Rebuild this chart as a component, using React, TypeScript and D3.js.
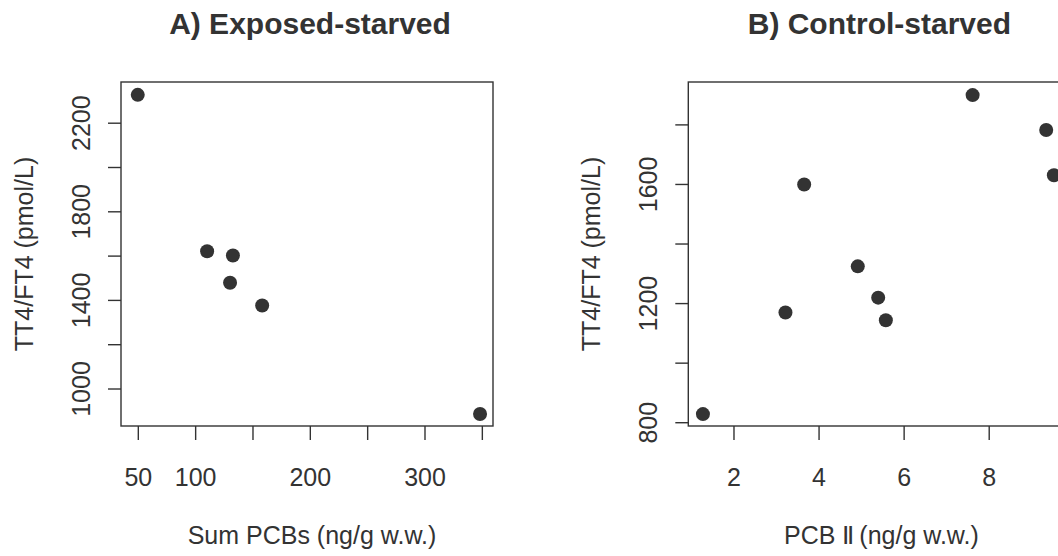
import React, { useEffect, useRef } from "react"
import * as d3 from "d3"

// panel A: exposed-starved
const pcbSum = [49.5, 110, 132.5, 130, 158, 348]
const ratioA = [2328, 1622, 1603, 1480, 1377, 887]
const xTicksA = [50, 100, 150, 200, 250, 300, 350]
const xLabelsA = [50, 100, 200, 300]
const yTicksA = [1000, 1200, 1400, 1600, 1800, 2000, 2200]
const yLabelsA = [1000, 1400, 1800, 2200]

// panel B: control-starved
const pcb2 = [1.27, 3.21, 3.65, 4.91, 5.39, 5.57, 7.61, 9.34, 9.52]
const ratioB = [829, 1170, 1600, 1325, 1220, 1144, 1900, 1783, 1631]
const xTicksB = [2, 4, 6, 8, 10]
const xLabelsB = [2, 4, 6, 8]
const yTicksB = [800, 1000, 1200, 1400, 1600, 1800]
const yLabelsB = [800, 1200, 1600]

const ink = "#333333"
const font = "'Liberation Sans', Arial, sans-serif"

export default function App() {
    const ref = useRef<SVGSVGElement>(null)

    useEffect(() => {
        const svg = d3.select(ref.current)
        svg.selectAll("*").remove()

        const top = 82, bottom = 426

        const panel = (opts: any) => {
            const { xs, ys, x, y, xTicks, xLabels, yTicks, yLabels, title, xTitle, yTitle } = opts
            const [left, right] = x.range()
            const g = svg.append("g")

            g.append("rect")
                .attr("x", left).attr("y", top)
                .attr("width", right - left).attr("height", bottom - top)
                .attr("fill", "none").attr("stroke", ink).attr("stroke-width", 1.4)

            // x axis
            g.selectAll(".xt").data(xTicks).enter().append("line")
                .attr("x1", (d: number) => x(d)).attr("x2", (d: number) => x(d))
                .attr("y1", bottom).attr("y2", bottom + 14)
                .attr("stroke", ink).attr("stroke-width", 1.4)
            g.selectAll(".xl").data(xLabels).enter().append("text")
                .attr("x", (d: number) => x(d)).attr("y", 486)
                .attr("text-anchor", "middle")
                .attr("font-size", 25).attr("fill", ink)
                .text((d: number) => d)

            // y axis
            g.selectAll(".yt").data(yTicks).enter().append("line")
                .attr("x1", left - 13).attr("x2", left)
                .attr("y1", (d: number) => y(d)).attr("y2", (d: number) => y(d))
                .attr("stroke", ink).attr("stroke-width", 1.4)
            g.selectAll(".yl").data(yLabels).enter().append("text")
                .attr("transform", (d: number) => `translate(${left - 31},${y(d)}) rotate(-90)`)
                .attr("text-anchor", "middle")
                .attr("font-size", 25).attr("fill", ink)
                .text((d: number) => d)

            g.selectAll("circle").data(xs).enter().append("circle")
                .attr("cx", (d: number) => x(d))
                .attr("cy", (d: number, i: number) => y(ys[i]))
                .attr("r", 7)
                .attr("fill", ink)

            const mid = (left + right) / 2
            g.append("text")
                .attr("x", mid + 3).attr("y", 34)
                .attr("text-anchor", "middle")
                .attr("font-size", 30).attr("font-weight", "bold").attr("fill", ink)
                .text(title)
            g.append("text")
                .attr("x", mid + 5).attr("y", 544)
                .attr("text-anchor", "middle")
                .attr("font-size", 25).attr("fill", ink)
                .text(xTitle)
            g.append("text")
                .attr("transform", `translate(${left - 88},${(top + bottom) / 2}) rotate(-90)`)
                .attr("text-anchor", "middle")
                .attr("font-size", 25).attr("fill", ink)
                .text(yTitle)
        }

        panel({
            xs: pcbSum, ys: ratioA,
            x: d3.scaleLinear().domain([34.9, 359.3]).range([121, 493]),
            y: d3.scaleLinear().domain([833, 2386]).range([bottom, top]),
            xTicks: xTicksA, xLabels: xLabelsA, yTicks: yTicksA, yLabels: yLabelsA,
            title: "A) Exposed-starved",
            xTitle: "Sum PCBs (ng/g w.w.)",
            yTitle: "TT4/FT4 (pmol/L)"
        })

        panel({
            xs: pcb2, ys: ratioB,
            x: d3.scaleLinear().domain([0.926, 9.77]).range([688.3, 1064.5]),
            y: d3.scaleLinear().domain([789, 1944]).range([bottom, top]),
            xTicks: xTicksB, xLabels: xLabelsB, yTicks: yTicksB, yLabels: yLabelsB,
            title: "B) Control-starved",
            xTitle: "PCB Ⅱ\u2009(ng/g w.w.)",
            yTitle: "TT4/FT4 (pmol/L)"
        })
    }, [])

    return (
        <svg ref={ref} width={1058} height={556}
            style={{ position: "absolute", left: 0, top: 0, background: "#fff", fontFamily: font }} />
    )
}
